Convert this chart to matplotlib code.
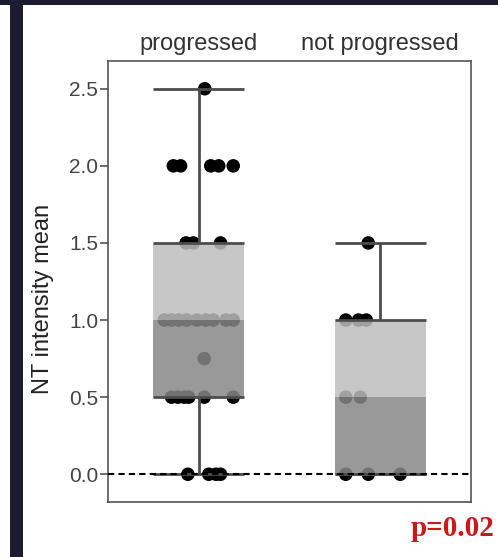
import numpy as np
import matplotlib
matplotlib.use('Agg')
import matplotlib.pyplot as plt
from matplotlib.patches import Rectangle

# groups and box summary (min, q1, median, q3, max)
groups = ['progressed', 'not progressed']
box_min = [0.0, 0.0]
box_q1 = [0.5, 0.0]
box_med = [1.0, 0.5]
box_q3 = [1.5, 1.0]
box_max = [2.5, 1.5]

# individual points: values and horizontal scatter
prog_y = [2.5,
          2.0, 2.0, 2.0, 2.0, 2.0,
          1.5, 1.5, 1.5,
          1.0, 1.0, 1.0, 1.0, 1.0, 1.0, 1.0, 1.0, 1.0,
          0.75,
          0.5, 0.5, 0.5, 0.5, 0.5, 0.5,
          0.0, 0.0, 0.0, 0.0]
prog_dx = [0.033,
           -0.14, -0.10, 0.066, 0.11, 0.19,
           -0.07, -0.03, 0.12,
           -0.19, -0.15, -0.11, -0.066, -0.01, 0.04, 0.08, 0.15, 0.19,
           0.03,
           -0.15, -0.115, -0.08, -0.055, 0.03, 0.19,
           -0.06, 0.055, 0.095, 0.12]
notp_y = [1.5, 1.0, 1.0, 1.0, 0.5, 0.5, 0.0, 0.0, 0.0]
notp_dx = [-0.066, -0.19, -0.12, -0.077, -0.19, -0.11, -0.19, -0.066, 0.11]

yticks = [0.0, 0.5, 1.0, 1.5, 2.0, 2.5]

plt.rcParams['font.family'] = ['Liberation Sans', 'DejaVu Sans']

fig = plt.figure(figsize=(4.98, 5.57), dpi=100)
fig.patches.append(Rectangle((0, 1 - 5/557), 1, 5/557, transform=fig.transFigure,
                             facecolor='#1c1b30', edgecolor='none', zorder=0))
fig.patches.append(Rectangle((10/498, 0), 13/498, 1, transform=fig.transFigure,
                             facecolor='#1c1b30', edgecolor='none', zorder=0))

ax = fig.add_axes([108/498, 1 - 502/557, 363/498, 441/557])

line_col = '#4d4d4d'
half = 0.25
pts = [(prog_y, prog_dx), (notp_y, notp_dx)]
for i in range(len(groups)):
    ys, dxs = pts[i]
    ax.scatter(i + np.array(dxs), ys, s=95, color='black', edgecolor='none', zorder=2)
    # lower half of the box (q1 -> median), darker
    ax.add_patch(Rectangle((i - half, box_q1[i]), 2*half, box_med[i] - box_q1[i],
                           facecolor='#878787', edgecolor='none', alpha=0.85, zorder=3))
    # upper half of the box (median -> q3), lighter
    ax.add_patch(Rectangle((i - half, box_med[i]), 2*half, box_q3[i] - box_med[i],
                           facecolor='#bdbdbd', edgecolor='none', alpha=0.85, zorder=3))
    # whiskers
    ax.plot([i, i], [box_q3[i], box_max[i]], color=line_col, lw=2, zorder=4, solid_capstyle='butt')
    ax.plot([i, i], [box_min[i], box_q1[i]], color=line_col, lw=2, zorder=4, solid_capstyle='butt')
    for v in (box_min[i], box_q1[i], box_q3[i], box_max[i]):
        ax.plot([i - half, i + half], [v, v], color=line_col, lw=2, zorder=4,
                solid_capstyle='butt')

ax.axhline(0, color='black', lw=1.5, ls=(0, (3, 2)), zorder=5)

ax.set_xlim(-0.5, 1.5)
ax.set_ylim(-0.18, 2.68)
ax.set_yticks(yticks)
ax.set_yticklabels(['%.1f' % t for t in yticks], fontsize=15, color='#444444')
ax.set_ylabel('NT intensity mean', fontsize=17, color='#222222')
ax.yaxis.set_label_coords(-0.15, 0.46)

ax.xaxis.tick_top()
ax.set_xticks(range(len(groups)))
ax.set_xticklabels(groups, fontsize=17, color='#333333')
ax.tick_params(axis='x', length=0, pad=4)
ax.tick_params(axis='y', length=6, width=1.2, color='#555555', pad=1)

for sp in ax.spines.values():
    sp.set_color('#555555')
    sp.set_linewidth(1.2)

fig.text(494/498, 1 - 529/557, 'p=0.02', color='#cc1818', fontsize=21, fontweight='bold',
         family='Liberation Serif', ha='right', va='center')

fig.savefig('out.png', dpi=100)
